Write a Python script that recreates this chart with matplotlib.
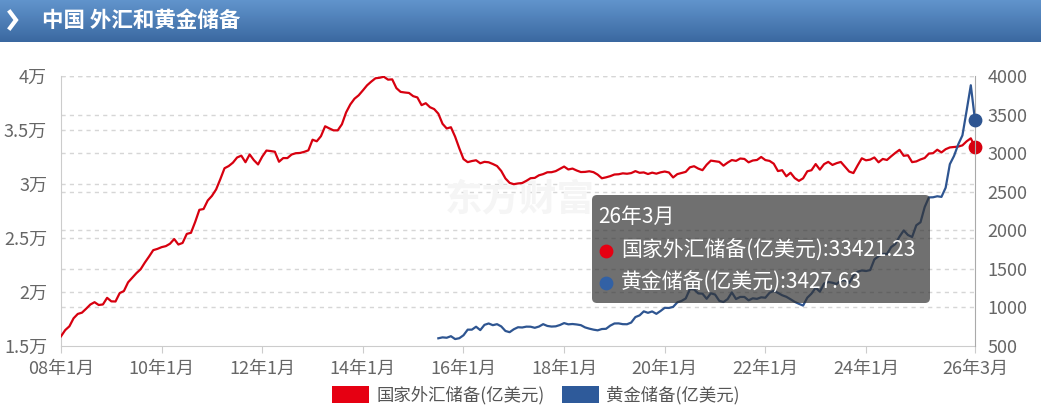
import matplotlib
matplotlib.use("Agg")
import matplotlib.pyplot as plt
import numpy as np
from matplotlib.patches import FancyBboxPatch, Patch
from matplotlib.lines import Line2D

plt.rcParams['font.family'] = ['Noto Sans CJK SC', 'DejaVu Sans']

# 国家外汇储备(亿美元), monthly 2008-01 .. 2026-03
fx = [
    15898, 16471, 16822, 17566, 17969, 18088, 18452, 18841, 19056, 18797, 18847, 19460,
    19134, 19121, 19900, 20089, 20895, 21316, 21750, 22110, 22726, 23283, 23875, 23992,
    24153, 24247, 24471, 24905, 24395, 24543, 25380, 25483, 26483, 27608, 27684, 28473,
    28900, 29500, 30447, 31458, 31662, 31975, 32453, 32625, 32017, 32738, 32209, 31811,
    32536, 33097, 33050, 32989, 32061, 32400, 32400, 32729, 32851, 32874, 32976, 33116,
    34100, 33955, 34426, 35345, 35148, 34967, 34967, 35530, 36627, 37366, 37895, 38213,
    38666, 39137, 39481, 39788, 39839, 39932, 39662, 39688, 38877, 38529, 38473, 38430,
    38134, 38015, 37301, 37481, 37111, 36938, 36513, 35574, 35141, 35255, 34383, 33304,
    32309, 32023, 32126, 32197, 31917, 32052, 32011, 31851, 31664, 31207, 30516, 30105,
    29982, 30051, 30091, 30295, 30536, 30568, 30807, 30915, 31085, 31092, 31193, 31399,
    31615, 31345, 31428, 31249, 31106, 31121, 31179, 31097, 30870, 30531, 30617, 30727,
    30879, 30902, 30988, 30950, 31010, 31192, 31037, 31072, 30924, 31052, 30956, 31079,
    31155, 31067, 30606, 30915, 31017, 31123, 31544, 31646, 31426, 31280, 31785, 32165,
    32107, 32050, 31700, 31982, 32218, 32140, 32359, 32321, 32006, 32176, 32224, 32502,
    32216, 32138, 31880, 31197, 31278, 30713, 31041, 30549, 30290, 30524, 31175, 31277,
    31845, 31332, 31839, 32048, 31765, 31930, 32043, 31601, 31151, 31012, 31718, 32380,
    32193, 32258, 32457, 32008, 32320, 32224, 32564, 32882, 33164, 32611, 32659, 32024,
    32090, 32272, 32407, 32817, 32853, 33174, 32922, 33222, 33387, 33430, 33464, 33579,
    33950, 34230, 33421.23,
]

# 黄金储备(亿美元), monthly 2015-07 .. 2026-03
gold_start = 90
gold = [
    600, 612, 607, 627, 590, 601,
    639, 712, 712, 750, 706, 774, 792, 770, 783, 754, 695, 679,
    717, 743, 740, 751, 750, 736, 752, 783, 760, 752, 755, 772,
    797, 781, 785, 779, 770, 741, 725, 712, 703, 720, 723, 764,
    792, 793, 783, 782, 804, 875, 897, 949, 930, 948, 917, 954,
    995, 993, 1007, 1066, 1084, 1116, 1237, 1233, 1182, 1178, 1112, 1183,
    1167, 1086, 1070, 1108, 1195, 1109, 1136, 1136, 1092, 1118, 1111, 1131,
    1126, 1190, 1216, 1188, 1158, 1138, 1106, 1072, 1047, 1024, 1126, 1179,
    1256, 1204, 1309, 1329, 1320, 1304, 1350, 1351, 1318, 1412, 1463, 1479,
    1472, 1484, 1622, 1664, 1694, 1693, 1782, 1822, 1918, 1998, 1939, 1913,
    2065, 2104, 2301, 2426, 2428, 2441, 2433, 2552, 2857, 2964, 3113, 3230,
    3550, 3880, 3427.63,
]

xtick_pos = [0, 24, 48, 72, 96, 120, 144, 168, 192, 218]
xtick_labels = ['08年1月', '10年1月', '12年1月', '14年1月', '16年1月',
                '18年1月', '20年1月', '22年1月', '24年1月', '26年3月']
left_ticks = [15000, 20000, 25000, 30000, 35000, 40000]
left_labels = ['1.5万', '2万', '2.5万', '3万', '3.5万', '4万']
right_ticks = [500, 1000, 1500, 2000, 2500, 3000, 3500, 4000]

red = '#d7000f'
blue = '#2e5591'
W, H = 1041, 413

fig = plt.figure(figsize=(W / 100, H / 100), dpi=100)
fig.patch.set_facecolor('white')

ov = fig.add_axes([0, 0, 1, 1], zorder=5)
ov.set_xlim(0, W)
ov.set_ylim(H, 0)
ov.axis('off')
ov.patch.set_alpha(0)

ax = fig.add_axes([61 / W, 1 - 346 / H, 914 / W, 270 / H], zorder=1)
ax2 = ax.twinx()

x_fx = np.arange(len(fx))
x_gold = np.arange(len(gold)) + gold_start

ax.set_xlim(0, 218)
ax.set_ylim(15000, 40000)
ax2.set_ylim(500, 4000)

# grid lines for both axes, drawn on the left axes
for v in left_ticks[1:]:
    ax.axhline(v, color='#d6d6d6', lw=1, ls=(0, (3, 3)), zorder=0)
for v in right_ticks[1:]:
    ax.axhline(15000 + (v - 500) * 25000 / 3500, color='#d6d6d6', lw=1, ls=(0, (3, 3)), zorder=0)

ax.text(445, 200, '东方财富', transform=ov.transData, fontsize=27, fontweight='bold',
        color='#f5f5f5', va='center', ha='left', zorder=0)

ax.plot(x_fx, fx, color=red, lw=1.6, zorder=3)
ax.scatter([x_fx[-1]], [fx[-1]], s=80, color=red, zorder=5, clip_on=False)
ax2.plot(x_gold, gold, color=blue, lw=1.6, zorder=3)
ax2.scatter([x_gold[-1]], [gold[-1]], s=80, color=blue, zorder=5, clip_on=False)

ax.set_xticks(xtick_pos)
ax.set_xticklabels(xtick_labels)
ax.set_yticks(left_ticks)
ax.set_yticklabels(left_labels)
ax2.set_yticks(right_ticks)
ax2.set_yticklabels([str(v) for v in right_ticks])

ax.tick_params(axis='x', colors='#cccccc', labelcolor='#666666', length=5, pad=5, labelsize=13)
ax.tick_params(axis='y', length=0, pad=10, labelcolor='#666666', labelsize=13)
ax2.tick_params(axis='y', length=0, pad=9, labelcolor='#666666', labelsize=13)

for s in ['top', 'right']:
    ax.spines[s].set_visible(False)
ax.spines['left'].set_color('#cccccc')
ax.spines['bottom'].set_color('#cccccc')
for s in ['top', 'left', 'bottom']:
    ax2.spines[s].set_visible(False)
ax2.spines['right'].set_color('#aaaaaa')

# header band
grad = np.linspace(0, 1, 50)[:, None]
top_c = np.array([0.38, 0.58, 0.80])
bot_c = np.array([0.23, 0.41, 0.63])
img = top_c[None, None, :] * (1 - grad[:, :, None]) + bot_c[None, None, :] * grad[:, :, None]
ov.imshow(np.repeat(img, 2, axis=1), extent=[0, W, 42, 0], aspect='auto', zorder=1)
ov.add_line(Line2D([10, 16, 10], [12, 20, 28], color='white', lw=3, zorder=2,
                   solid_joinstyle='miter'))
ov.text(42, 20, '中国 外汇和黄金储备', color='white', fontsize=15.5, fontweight='bold',
        va='center', ha='left', zorder=2)

# tooltip
box = FancyBboxPatch((592, 195), 338, 108, boxstyle='round,pad=0,rounding_size=5',
                     facecolor=(0.2, 0.2, 0.2), alpha=0.7, edgecolor='none', zorder=3)
ov.add_patch(box)
ov.text(598, 217, '26年3月', color='white', fontsize=15, va='center', ha='left', zorder=4)
ov.scatter([606], [251], s=80, color='#e60012', zorder=4)
ov.scatter([606], [283], s=80, color='#3261a5', zorder=4)
ov.text(621, 251, '国家外汇储备(亿美元):%.2f' % fx[-1], color='white', fontsize=15,
        va='center', ha='left', zorder=4)
ov.text(621, 283, '黄金储备(亿美元):%.2f' % gold[-1], color='white', fontsize=15,
        va='center', ha='left', zorder=4)

handles = [Patch(facecolor='#e60012', edgecolor='none', label='国家外汇储备(亿美元)'),
           Patch(facecolor='#2e5a9a', edgecolor='none', label='黄金储备(亿美元)')]
fig.legend(handles=handles, loc='center', bbox_to_anchor=(536 / W, 1 - 395 / H), ncol=2,
           frameon=False, fontsize=12.5, handlelength=2.1, handleheight=1.1,
           handletextpad=0.45, columnspacing=1.0, labelcolor='#555555')

fig.savefig('out.png', dpi=100)
